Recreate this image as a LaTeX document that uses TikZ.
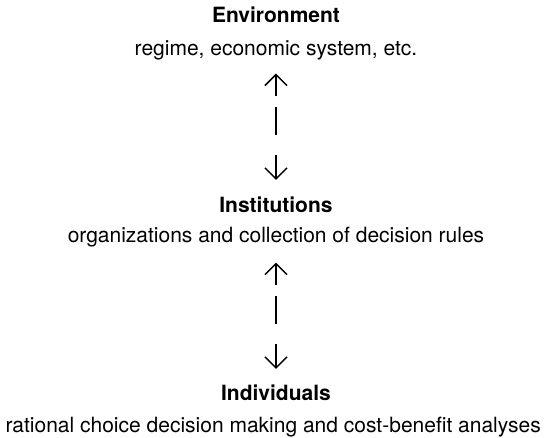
\documentclass[tikz,border=0pt]{standalone}
\usepackage{fontspec}
\setmainfont{TeX Gyre Heros}
\usetikzlibrary{arrows.meta}

\begin{document}
\begin{tikzpicture}[
  head/.style={inner sep=0pt,anchor=base,font=\fontsize{10.5}{12}\selectfont\bfseries},
  sub/.style={inner sep=0pt,anchor=base,font=\fontsize{10.5}{12}\selectfont},
  link/.style={{Straight Barb[length=5.5pt,width=11pt]}-{Straight Barb[length=5.5pt,width=11pt]},
               line width=0.75pt,
               dash pattern=on 10.5pt off 5.5pt on 14pt off 10pt on 14pt off 10pt},
]
\useasboundingbox (0,0) rectangle (9.683,7.697);
% three levels, top to bottom
\node[head] (env) at (4.85,7.293) {Environment};
\node[sub] (envsub) at (4.85,6.730) {regime, economic system, etc.};
\node[head] (inst) at (4.85,3.971) {Institutions};
\node[sub] (instsub) at (4.85,3.427) {organizations and collection of decision rules};
\node[head] (ind) at (4.85,0.650) {Individuals};
\node[sub] (indsub) at (4.80,0.088) {rational choice decision making and cost-benefit analyses};
% two-way links between levels
\draw[link,shorten <=6.75pt,shorten >=8pt] (envsub.south) -- (inst.north);
\draw[link,shorten <=7.3pt,shorten >=8pt] (instsub.south) -- (ind.north);
\end{tikzpicture}
\end{document}
